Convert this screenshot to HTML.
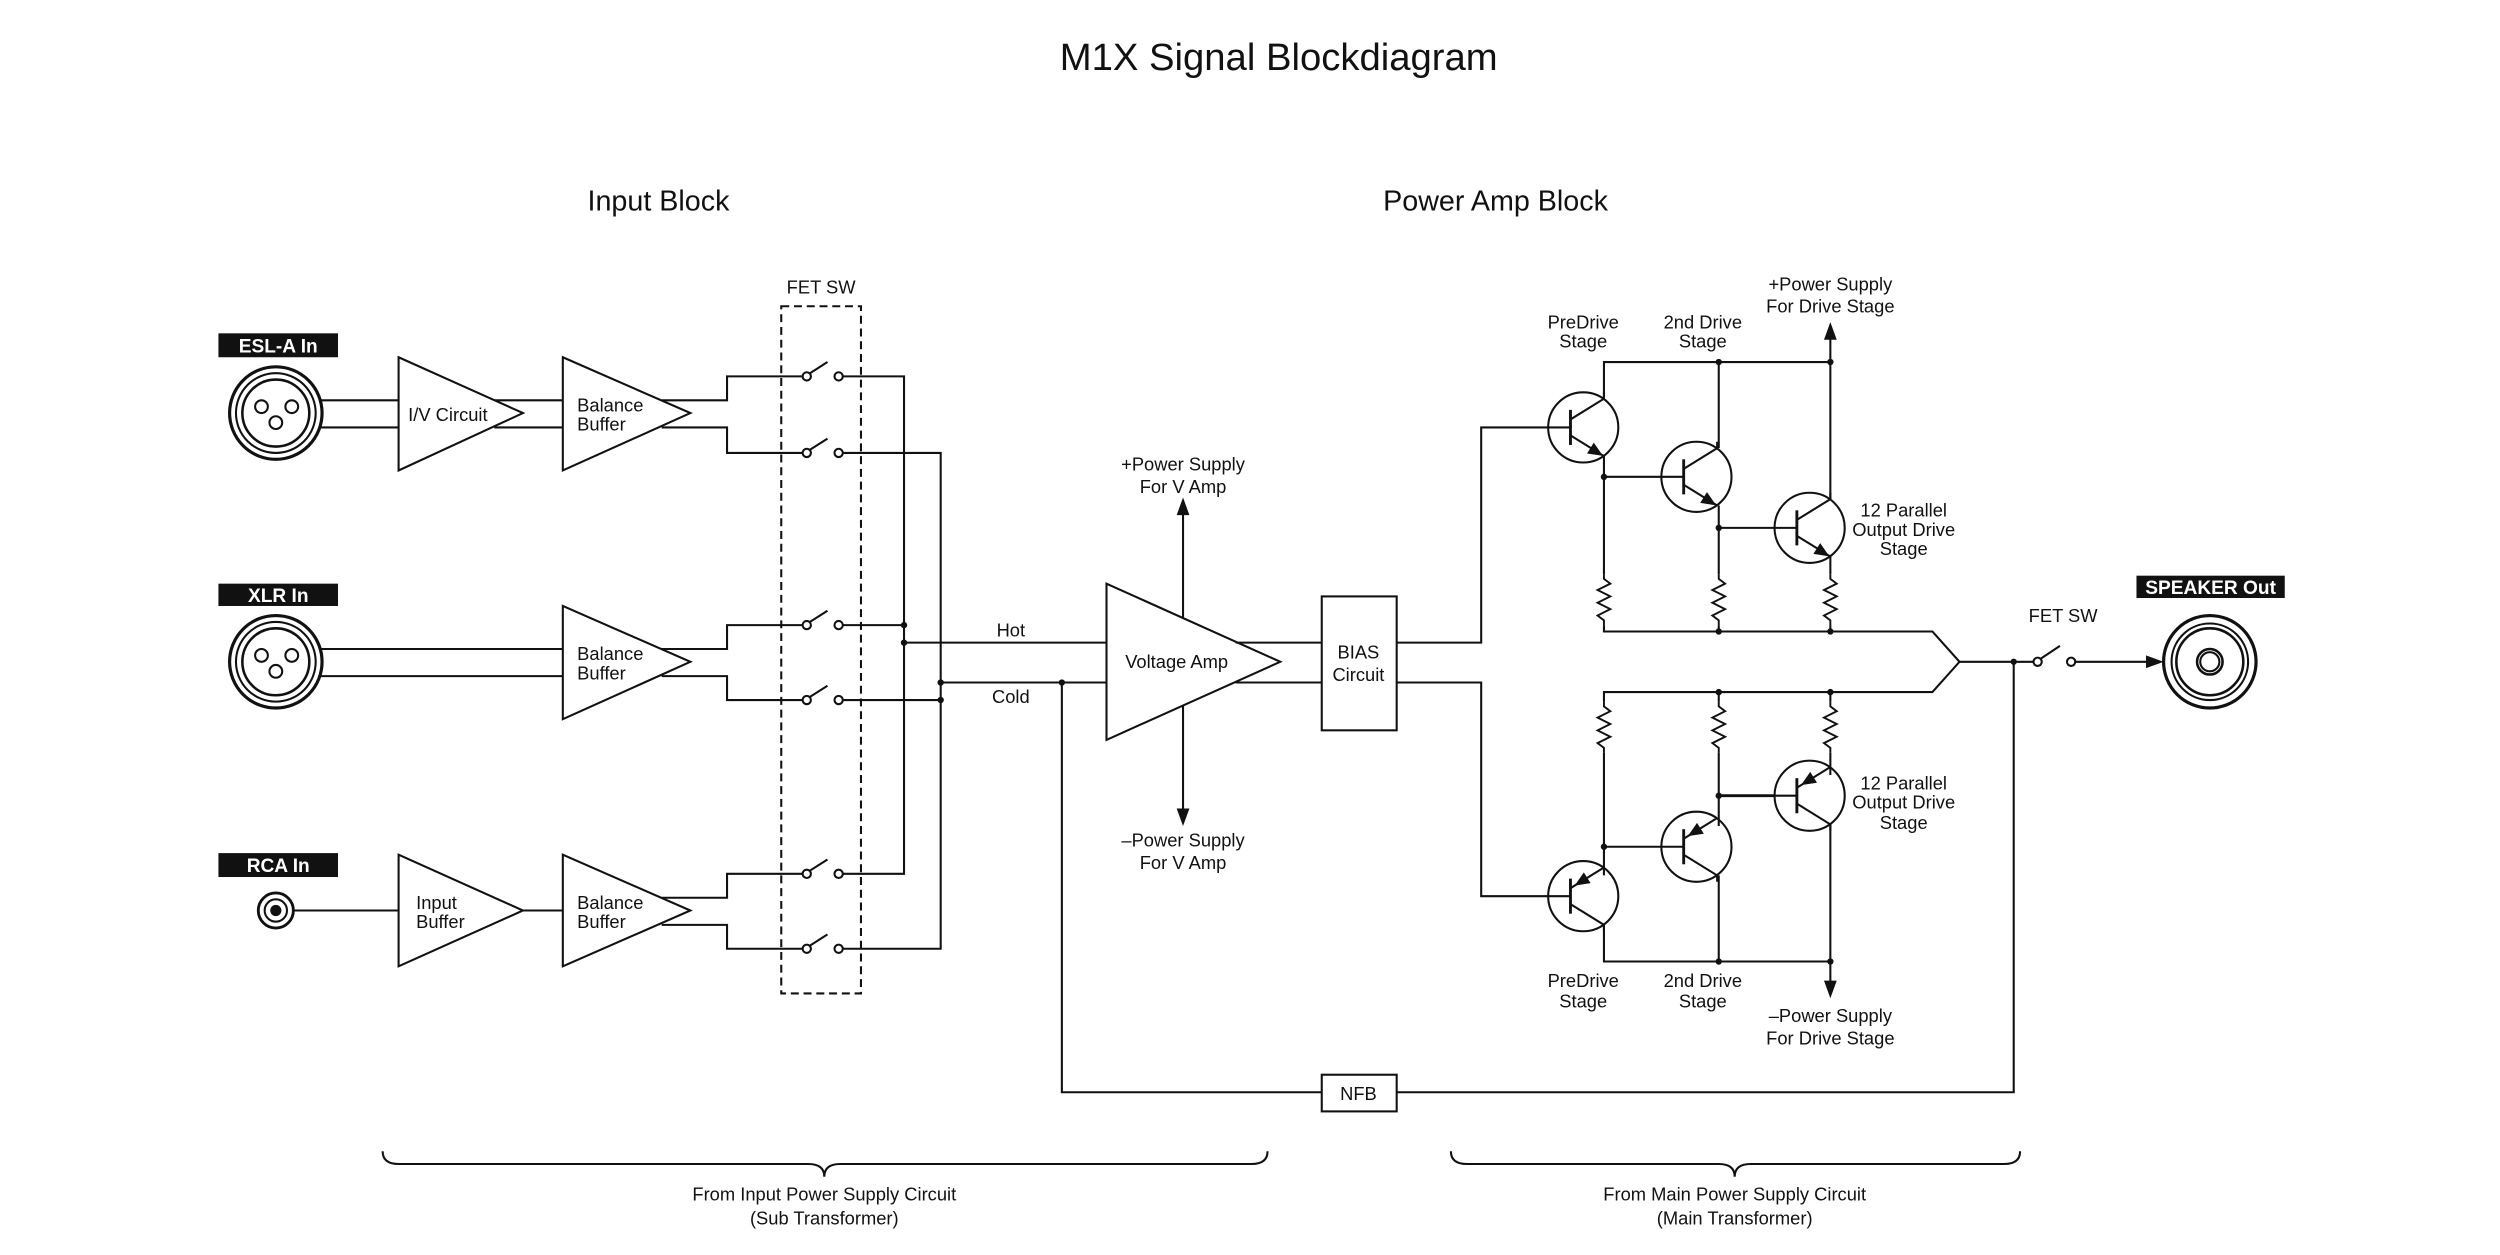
<!DOCTYPE html>
<html><head><meta charset="utf-8"><style>
html,body{margin:0;padding:0;background:#fff}
svg{display:block}
text{font-family:"Liberation Sans",sans-serif;fill:#111}
</style></head><body>
<svg width="2500" height="1255" viewBox="0 0 1568 787" xmlns="http://www.w3.org/2000/svg">
<defs>
<g id="npn" fill="none" stroke="#111" stroke-width="1.3">
<circle r="22"/>
<line x1="-8" y1="-11" x2="-8" y2="11" stroke-width="1.8"/>
<line x1="-22" y1="0" x2="-8" y2="0"/>
<polyline points="-8,-5 13,-18 13,-22"/>
<polyline points="-8,5 13,18"/>
<polygon points="11,17 3.45,15.85 6.65,10.75" fill="#111"/>
</g>
<g id="pnp" fill="none" stroke="#111" stroke-width="1.3">
<circle r="22"/>
<line x1="-8" y1="-11" x2="-8" y2="11" stroke-width="1.8"/>
<line x1="-22" y1="0" x2="-8" y2="0"/>
<polyline points="-8,-5 13,-18"/>
<polyline points="-8,5 13,18 13,22"/>
<polygon points="-4,-7.5 3.55,-8.65 0.35,-13.75" fill="#111"/>
</g>
<g id="res" fill="none" stroke="#111" stroke-width="1.2">
<polyline points="0,0 0,3 4,6 -4,10 4,14 -4,18 4,22 -4,26 0,29 0,32"/>
</g>
</defs>

<text x="802" y="44" font-size="24" text-anchor="middle">M1X Signal Blockdiagram</text>
<text x="413" y="132" font-size="18" text-anchor="middle">Input Block</text>
<text x="938" y="132" font-size="18" text-anchor="middle">Power Amp Block</text>

<g fill="none" stroke="#111" stroke-width="1.3">
<rect x="490" y="192" width="50" height="431" stroke-dasharray="5,3"/>

<circle cx="173" cy="259" r="29" stroke-width="2"/>
<circle cx="173" cy="259" r="25"/>
<circle cx="173" cy="259" r="21" stroke-width="1.6"/>
<circle cx="164" cy="255" r="4"/><circle cx="183" cy="255" r="4"/><circle cx="173" cy="265" r="4"/>
<line x1="200" y1="251" x2="250" y2="251"/><line x1="200" y1="268" x2="250" y2="268"/>
<polygon points="250,224 328,259 250,295"/>
<line x1="310" y1="251" x2="353" y2="251"/><line x1="310" y1="268" x2="353" y2="268"/>
<polygon points="353,224 433,259 353,295"/>
<polyline points="415,251 456,251 456,236 503,236"/>
<polyline points="415,268 456,268 456,284 503,284"/>

<circle cx="173" cy="415" r="29" stroke-width="2"/>
<circle cx="173" cy="415" r="25"/>
<circle cx="173" cy="415" r="21" stroke-width="1.6"/>
<circle cx="164" cy="411" r="4"/><circle cx="183" cy="411" r="4"/><circle cx="173" cy="421" r="4"/>
<line x1="200" y1="407" x2="353" y2="407"/><line x1="200" y1="424" x2="353" y2="424"/>
<polygon points="353,380 433,415 353,451"/>
<polyline points="415,407 456,407 456,392 503,392"/>
<polyline points="415,424 456,424 456,439 503,439"/>

<circle cx="173" cy="571" r="11" stroke-width="1.8"/>
<circle cx="173" cy="571" r="7"/>
<line x1="184" y1="571" x2="250" y2="571"/>
<polygon points="250,536 328,571 250,606"/>
<line x1="328" y1="571" x2="353" y2="571"/>
<polygon points="353,536 433,571 353,606"/>
<polyline points="415,563 456,563 456,548 503,548"/>
<polyline points="415,580 456,580 456,595 503,595"/>

<circle cx="506" cy="236" r="2.6"/><circle cx="526" cy="236" r="2.6"/><line x1="508" y1="234" x2="519" y2="227"/>
<circle cx="506" cy="284" r="2.6"/><circle cx="526" cy="284" r="2.6"/><line x1="508" y1="282" x2="519" y2="275"/>
<circle cx="506" cy="392" r="2.6"/><circle cx="526" cy="392" r="2.6"/><line x1="508" y1="390" x2="519" y2="383"/>
<circle cx="506" cy="439" r="2.6"/><circle cx="526" cy="439" r="2.6"/><line x1="508" y1="437" x2="519" y2="430"/>
<circle cx="506" cy="548" r="2.6"/><circle cx="526" cy="548" r="2.6"/><line x1="508" y1="546" x2="519" y2="539"/>
<circle cx="506" cy="595" r="2.6"/><circle cx="526" cy="595" r="2.6"/><line x1="508" y1="593" x2="519" y2="586"/>
<polyline points="529,236 567,236 567,548 529,548"/>
<line x1="529" y1="392" x2="567" y2="392"/>
<polyline points="529,284 590,284 590,595 529,595"/>
<line x1="529" y1="439" x2="590" y2="439"/>
<line x1="567" y1="403" x2="694" y2="403"/>
<line x1="590" y1="428" x2="694" y2="428"/>

<polygon points="694,366 803,415 694,464"/>
<line x1="742" y1="388" x2="742" y2="322"/>
<line x1="742" y1="442" x2="742" y2="508"/>
<line x1="775" y1="403" x2="829" y2="403"/>
<line x1="775" y1="428" x2="829" y2="428"/>
<rect x="829" y="374" width="47" height="84"/>
<polyline points="876,403 929,403 929,268 971,268"/>
<polyline points="876,428 929,428 929,562 971,562"/>

<polyline points="666,428 666,685 829,685"/>
<rect x="829" y="674" width="47" height="23"/>
<polyline points="876,685 1263,685 1263,415"/>

<polyline points="1006,250 1006,227 1148,227 1148,212"/>
<line x1="1078" y1="227" x2="1078" y2="281"/>
<line x1="1148" y1="227" x2="1148" y2="313"/>
<line x1="1006" y1="286" x2="1006" y2="360"/>
<line x1="1006" y1="299" x2="1042" y2="299"/>
<line x1="1078" y1="317" x2="1078" y2="360"/>
<line x1="1078" y1="331" x2="1113" y2="331"/>
<line x1="1148" y1="349" x2="1148" y2="360"/>
<polyline points="1006,392 1006,396 1212,396 1229,415 1212,434 1006,434 1006,440"/>
<line x1="1078" y1="392" x2="1078" y2="396"/><line x1="1148" y1="392" x2="1148" y2="396"/>
<line x1="1078" y1="434" x2="1078" y2="440"/><line x1="1148" y1="434" x2="1148" y2="440"/>
<line x1="1006" y1="472" x2="1006" y2="549"/>
<line x1="1006" y1="531" x2="1042" y2="531"/>
<line x1="1078" y1="472" x2="1078" y2="518"/>
<line x1="1078" y1="499" x2="1113" y2="499" stroke-width="1.8"/>
<line x1="1148" y1="472" x2="1148" y2="486"/>
<polyline points="1006,580 1006,603 1148,603 1148,616"/>
<line x1="1078" y1="549" x2="1078" y2="603"/>
<line x1="1148" y1="517" x2="1148" y2="603"/>

<line x1="1229" y1="415" x2="1276" y2="415"/>
<circle cx="1278" cy="415" r="2.6"/><circle cx="1299" cy="415" r="2.6"/>
<line x1="1280" y1="413" x2="1292" y2="405"/>
<line x1="1301" y1="415" x2="1350" y2="415"/>
<circle cx="1386" cy="415" r="29" stroke-width="2"/>
<circle cx="1386" cy="415" r="24"/>
<circle cx="1386" cy="415" r="21" stroke-width="1.6"/>
<circle cx="1386" cy="415" r="8" stroke-width="1.6"/>
<circle cx="1386" cy="415" r="6"/>

<path d="M240,722 Q240,730 250,730 L507,730 Q517,730 517,738 Q517,730 527,730 L785,730 Q795,730 795,722"/>
<path d="M910,722 Q910,730 920,730 L1078,730 Q1088,730 1088,738 Q1088,730 1098,730 L1257,730 Q1267,730 1267,722"/>
</g>

<g fill="#111">
<polygon points="742,312 738,323 746,323"/>
<polygon points="742,518 738,507 746,507"/>
<polygon points="1148,202 1144,213 1152,213"/>
<polygon points="1148,626 1144,615 1152,615"/>
<polygon points="1357,415 1346,411 1346,419"/>
<circle cx="567" cy="392" r="2"/><circle cx="567" cy="403" r="2"/>
<circle cx="590" cy="439" r="2"/><circle cx="590" cy="428" r="2"/>
<circle cx="666" cy="428" r="2"/>
<circle cx="1078" cy="227" r="2"/><circle cx="1148" cy="227" r="2"/>
<circle cx="1006" cy="299" r="2"/><circle cx="1078" cy="331" r="2"/>
<circle cx="1078" cy="396" r="2"/><circle cx="1148" cy="396" r="2"/>
<circle cx="1078" cy="434" r="2"/><circle cx="1148" cy="434" r="2"/>
<circle cx="1006" cy="531" r="2"/><circle cx="1078" cy="499" r="2"/>
<circle cx="1078" cy="603" r="2"/><circle cx="1148" cy="603" r="2"/>
<circle cx="1263" cy="415" r="2"/>
<circle cx="173" cy="571" r="3.5"/>
</g>

<use href="#npn" x="993" y="268"/>
<use href="#npn" x="1064" y="299"/>
<use href="#npn" x="1135" y="331"/>
<use href="#pnp" x="993" y="562"/>
<use href="#pnp" x="1064" y="531"/>
<use href="#pnp" x="1135" y="499"/>
<use href="#res" x="1006" y="360"/><use href="#res" x="1078" y="360"/><use href="#res" x="1148" y="360"/>
<use href="#res" x="1006" y="440"/><use href="#res" x="1078" y="440"/><use href="#res" x="1148" y="440"/>

<rect x="137" y="209" width="75" height="15" fill="#111"/>
<text x="174.5" y="221" font-size="12" font-weight="bold" text-anchor="middle" style="fill:#fff">ESL-A In</text>
<rect x="137" y="366" width="75" height="14" fill="#111"/>
<text x="174.5" y="377.5" font-size="12" font-weight="bold" text-anchor="middle" style="fill:#fff">XLR In</text>
<rect x="137" y="535" width="75" height="15" fill="#111"/>
<text x="174.5" y="547" font-size="12" font-weight="bold" text-anchor="middle" style="fill:#fff">RCA In</text>
<rect x="1340" y="361" width="93" height="14" fill="#111"/>
<text x="1386.5" y="372.5" font-size="12" font-weight="bold" text-anchor="middle" style="fill:#fff">SPEAKER Out</text>

<g font-size="11.5">
<text x="515" y="184" text-anchor="middle">FET SW</text>
<text x="256" y="264">I/V Circuit</text>
<text x="362" y="258">Balance</text><text x="362" y="270">Buffer</text>
<text x="362" y="414">Balance</text><text x="362" y="426">Buffer</text>
<text x="261" y="570">Input</text><text x="261" y="582">Buffer</text>
<text x="362" y="570">Balance</text><text x="362" y="582">Buffer</text>
<text x="634" y="399" text-anchor="middle">Hot</text>
<text x="634" y="441" text-anchor="middle">Cold</text>
<text x="738" y="419" text-anchor="middle">Voltage Amp</text>
<text x="742" y="295" text-anchor="middle">+Power Supply</text><text x="742" y="309" text-anchor="middle">For V Amp</text>
<text x="742" y="531" text-anchor="middle">–Power Supply</text><text x="742" y="545" text-anchor="middle">For V Amp</text>
<text x="852" y="413" text-anchor="middle">BIAS</text><text x="852" y="427" text-anchor="middle">Circuit</text>
<text x="852" y="690" text-anchor="middle">NFB</text>
<text x="993" y="206" text-anchor="middle">PreDrive</text><text x="993" y="218" text-anchor="middle">Stage</text>
<text x="1068" y="206" text-anchor="middle">2nd Drive</text><text x="1068" y="218" text-anchor="middle">Stage</text>
<text x="1148" y="182" text-anchor="middle">+Power Supply</text><text x="1148" y="196" text-anchor="middle">For Drive Stage</text>
<text x="1194" y="324" text-anchor="middle">12 Parallel</text><text x="1194" y="336" text-anchor="middle">Output Drive</text><text x="1194" y="348" text-anchor="middle">Stage</text>
<text x="1194" y="495" text-anchor="middle">12 Parallel</text><text x="1194" y="507" text-anchor="middle">Output Drive</text><text x="1194" y="520" text-anchor="middle">Stage</text>
<text x="993" y="619" text-anchor="middle">PreDrive</text><text x="993" y="632" text-anchor="middle">Stage</text>
<text x="1068" y="619" text-anchor="middle">2nd Drive</text><text x="1068" y="632" text-anchor="middle">Stage</text>
<text x="1148" y="641" text-anchor="middle">–Power Supply</text><text x="1148" y="655" text-anchor="middle">For Drive Stage</text>
<text x="1294" y="390" text-anchor="middle">FET SW</text>
<text x="517" y="753" text-anchor="middle">From Input Power Supply Circuit</text><text x="517" y="768" text-anchor="middle">(Sub Transformer)</text>
<text x="1088" y="753" text-anchor="middle">From Main Power Supply Circuit</text><text x="1088" y="768" text-anchor="middle">(Main Transformer)</text>
</g>
</svg>
</body></html>
